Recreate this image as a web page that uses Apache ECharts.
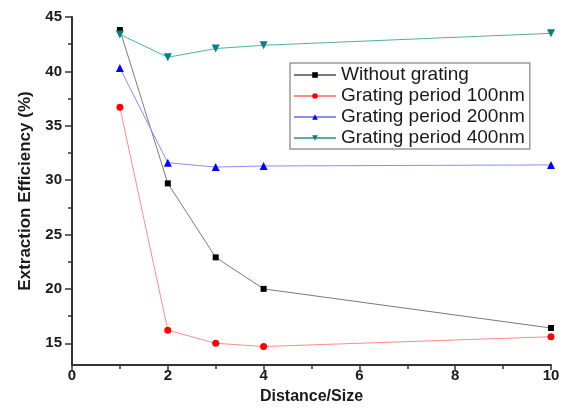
<!DOCTYPE html>
<html>
<head>
<meta charset="utf-8">
<script src="https://cdn.jsdelivr.net/npm/echarts@6/dist/echarts.min.js"></script>
<style>html,body{margin:0;padding:0;background:#fff}#c{width:564px;height:410px}</style>
</head>
<body>
<div id="c"></div>
<script>
var distances = [1, 2, 3, 4, 10];
var withoutGrating = [43.8, 29.7, 22.9, 20.0, 16.4];
var period100 = [36.7, 16.2, 15.0, 14.7, 15.6];
var period200 = [40.3, 31.6, 31.2, 31.3, 31.4];
var period400 = [43.4, 41.3, 42.1, 42.4, 43.5];
var seriesNames = ['Without grating', 'Grating period 100nm', 'Grating period 200nm', 'Grating period 400nm'];
var yMajorTicks = [15, 20, 25, 30, 35, 40, 45];
var yMinorTicks = [17.5, 22.5, 27.5, 32.5, 37.5, 42.5];
var xMajorTicks = [0, 2, 4, 6, 8, 10];
var xMinorTicks = [1, 3, 5, 7, 9];

function pairs(vals) { return distances.map(function (d, i) { return [d, vals[i]]; }); }

var chart = echarts.init(document.getElementById('c'), null, {renderer: 'canvas'});
var axisCol = '#333';
var lblFont = {fontFamily: 'Liberation Sans, Arial', fontWeight: 'bold', fontSize: 15, color: '#1a1a1a'};

function mk(name, vals, lineColor, symColor, symbol, size, rot) {
  return {
    name: name, type: 'line', data: pairs(vals),
    symbol: symbol, symbolSize: size, symbolRotate: rot || 0,
    lineStyle: {color: lineColor, width: 1},
    itemStyle: {color: symColor},
    animation: false, z: 3
  };
}

chart.setOption({
  animation: false,
  grid: {left: 72, right: 13, top: 17, bottom: 42},
  legend: {
    left: 290, top: 63, orient: 'vertical',
    data: seriesNames,
    padding: [2, 5, 1, 3],
    borderColor: '#999', borderWidth: 1.5,
    itemWidth: 42, itemHeight: 7, itemGap: 1,
    textStyle: {fontFamily: 'Liberation Sans, Arial', fontSize: 19, color: '#1a1a1a', lineHeight: 20}
  },
  xAxis: [{
    type: 'value', min: 0, max: 10, interval: 2,
    name: 'Distance/Size', nameLocation: 'middle', nameGap: 24,
    nameTextStyle: {fontFamily: 'Liberation Sans, Arial', fontWeight: 'bold', fontSize: 16, color: '#1a1a1a'},
    axisLine: {show: true, lineStyle: {color: axisCol, width: 2}},
    axisTick: {show: true, length: 5, lineStyle: {color: axisCol, width: 1.5}, customValues: xMajorTicks},
    axisLabel: Object.assign({margin: 3, customValues: xMajorTicks}, lblFont),
    splitLine: {show: false}
  }, {
    type: 'value', min: 0, max: 10, position: 'bottom',
    axisLine: {show: false},
    axisTick: {show: true, length: 4, lineStyle: {color: axisCol, width: 1.5}, customValues: xMinorTicks},
    axisLabel: {show: false},
    splitLine: {show: false}
  }],
  yAxis: [{
    type: 'value', min: 13, max: 45,
    name: 'Extraction Efficiency (%)', nameLocation: 'middle', nameGap: 38,
    nameTextStyle: {fontFamily: 'Liberation Sans, Arial', fontWeight: 'bold', fontSize: 17, color: '#1a1a1a'},
    axisLine: {show: true, lineStyle: {color: axisCol, width: 2}},
    axisTick: {show: true, length: 7, lineStyle: {color: axisCol, width: 1.5}, customValues: yMajorTicks},
    axisLabel: Object.assign({margin: 10, customValues: yMajorTicks}, lblFont),
    splitLine: {show: false}
  }, {
    type: 'value', min: 13, max: 45, position: 'left',
    axisLine: {show: false},
    axisTick: {show: true, length: 4, lineStyle: {color: axisCol, width: 1.5}, customValues: yMinorTicks},
    axisLabel: {show: false},
    splitLine: {show: false}
  }],
  series: [
    mk(seriesNames[0], withoutGrating, '#7a7a7a', '#000000', 'rect', 6),
    mk(seriesNames[1], period100, '#ff8c8c', '#ff0000', 'circle', 7),
    mk(seriesNames[2], period200, '#8c8cff', '#0000ff', 'triangle', 8),
    mk(seriesNames[3], period400, '#4fb0a8', '#008080', 'triangle', 8, 180)
  ]
});
</script>
</body>
</html>
